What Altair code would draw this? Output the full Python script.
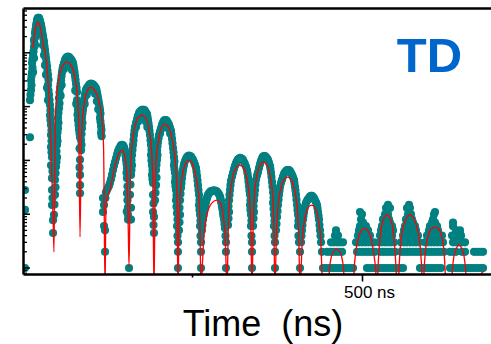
import altair as alt
import pandas as pd

# Time-resolved decay with quantum beats: time in ns, photon counts as log10(counts)
lead_in_and_peak1 = [
    (3.0, 0.0), (3.0, 1.08), (3.0, 1.45), (10.3, 2.43), (10.3, 3.12), (11.8, 3.31), (11.8, 3.49),
    (13.3, 3.64), (13.3, 3.81), (14.8, 3.96), (16.2, 4.11), (16.2, 4.24), (17.7, 4.37), (19.2, 4.50),
    (20.7, 4.61), (22.1, 4.65), (23.6, 4.65), (25.1, 4.59), (26.6, 4.52), (28.0, 4.42), (29.5, 4.31),
    (31.0, 4.20), (32.5, 4.05), (33.9, 3.90), (35.4, 3.75), (36.9, 3.59), (36.9, 3.40), (38.4, 3.22),
    (39.8, 3.03), (39.8, 2.84), (41.3, 2.66), (41.3, 2.47), (41.3, 2.25), (42.8, 2.06), (41.3, 1.91),
    (42.8, 1.67), (42.8, 1.45), (42.8, 1.17), (44.3, 0.89), (44.3, 0.65),
    (17.7, 4.14), (19.2, 4.35), (20.7, 4.46), (23.6, 4.48), (26.6, 4.39), (29.5, 4.14), (31.0, 3.96),
    (32.5, 3.77), (33.9, 3.59), (35.4, 3.35), (36.9, 3.12), (16.2, 3.90), (14.8, 3.64),
    (11.0, 3.22), (12.5, 3.40), (12.5, 3.57), (14.0, 3.72), (14.0, 3.88), (15.5, 4.03), (17.0, 4.18),
    (18.4, 4.30), (18.4, 4.43), (19.9, 4.55), (21.4, 4.63), (24.3, 4.62), (25.8, 4.55), (27.3, 4.47),
    (28.7, 4.36), (30.2, 4.25), (31.7, 4.12), (33.2, 3.97), (34.7, 3.82), (36.1, 3.67), (37.6, 3.50),
    (37.6, 3.30), (39.1, 3.12), (40.5, 2.93), (40.5, 2.75), (42.0, 2.56), (42.0, 2.36), (42.0, 2.15),
    (43.5, 1.80), (43.5, 1.30),
]
peak2 = [
    (45.7, 0.99), (47.2, 1.36), (47.2, 1.64), (48.7, 1.88), (50.2, 2.06), (50.2, 2.29), (50.2, 2.43),
    (51.6, 2.60), (51.6, 2.79), (53.1, 2.97), (53.1, 3.16), (54.6, 3.35), (56.1, 3.49), (57.5, 3.64),
    (59.0, 3.75), (62.0, 3.87), (64.9, 3.92), (67.9, 3.92), (70.8, 3.88), (73.8, 3.81), (75.2, 3.70),
    (76.7, 3.57), (78.2, 3.42), (79.7, 3.27), (79.7, 3.12), (81.1, 2.94), (81.1, 2.75), (82.6, 2.57),
    (84.1, 2.43), (84.1, 2.01), (84.1, 1.73), (84.1, 1.54), (84.1, 1.39),
    (60.5, 3.70), (63.4, 3.75), (66.4, 3.77), (69.3, 3.75), (72.3, 3.68), (55.5, 3.20), (57.0, 3.40),
    (77.0, 3.30), (78.5, 3.05),
    (46.4, 1.18), (47.9, 1.50), (48.0, 1.76), (49.4, 1.97), (49.4, 2.17), (50.9, 2.36), (50.9, 2.52),
    (52.3, 2.70), (52.3, 2.88), (53.8, 3.06), (53.8, 3.26), (55.3, 3.42), (56.8, 3.57), (58.3, 3.70),
    (60.5, 3.81), (63.4, 3.90), (66.4, 3.93), (69.3, 3.90), (72.3, 3.85), (74.5, 3.76), (76.0, 3.64),
    (77.5, 3.50), (79.0, 3.35), (80.4, 3.03), (80.4, 2.85), (81.9, 2.66), (83.4, 2.50), (83.4, 2.22),
    (83.4, 1.87),
]
peak3 = [
    (85.6, 2.19), (85.6, 2.38), (87.0, 2.60), (87.0, 2.79), (88.5, 2.94), (90.0, 3.09), (91.5, 3.22),
    (92.9, 3.31), (95.9, 3.37), (98.8, 3.42), (101.8, 3.42), (104.7, 3.39), (107.7, 3.34), (109.2, 3.25),
    (110.6, 3.16), (112.1, 3.05), (113.6, 2.94), (113.6, 2.79), (115.1, 2.64), (115.1, 2.51),
    (91.0, 3.05), (94.0, 3.22), (97.4, 3.30), (100.3, 3.31), (103.3, 3.30), (106.2, 3.24), (109.0, 3.10),
    (111.0, 2.95),
    (86.3, 2.29), (86.3, 2.49), (87.7, 2.70), (87.7, 2.87), (89.2, 3.02), (90.7, 3.16), (92.2, 3.27),
    (94.4, 3.35), (97.3, 3.40), (100.3, 3.43), (103.3, 3.41), (106.2, 3.37), (108.5, 3.30), (109.9, 3.21),
    (111.4, 3.11), (112.9, 3.00), (114.3, 2.87), (114.3, 2.72), (115.8, 2.57), (116.0, 2.45),
    (118.0, 1.30), (119.5, 1.17), (118.0, 1.04), (119.5, 0.78), (121.0, 0.70), (121.0, 0.30),
]
peak4 = [
    (122.4, 1.41), (125.4, 1.49), (128.3, 1.58), (131.3, 1.73), (134.2, 1.90), (137.2, 2.04), (140.1, 2.17),
    (143.1, 2.25), (146.0, 2.29), (149.0, 2.25), (150.5, 2.16), (151.9, 2.01), (153.4, 1.86), (153.4, 1.67),
    (153.4, 1.39), (154.9, 1.13), (154.9, 0.99), (154.9, 0.90), (156.4, 0.0),
    (121.5, 1.30), (123.9, 1.45), (126.9, 1.53), (129.8, 1.65), (132.8, 1.82), (135.7, 1.97), (138.7, 2.11),
    (141.6, 2.21), (144.6, 2.28), (147.5, 2.28), (149.7, 2.21), (151.2, 2.09), (152.7, 1.94), (152.7, 1.77),
    (154.1, 1.52), (154.1, 1.26), (153.0, 1.05),
]
peak5 = [
    (157.8, 1.36), (159.3, 1.12), (159.3, 0.90), (159.3, 1.73), (160.8, 1.91), (160.8, 2.10), (162.3, 2.29),
    (163.7, 2.47), (165.2, 2.62), (168.2, 2.77), (171.1, 2.88), (174.1, 2.92), (177.0, 2.94), (180.0, 2.92),
    (182.9, 2.86), (184.4, 2.75), (185.9, 2.62), (187.3, 2.47), (188.8, 2.29), (188.8, 2.10), (190.3, 1.91),
    (190.3, 1.73), (191.8, 1.58), (191.8, 1.36), (191.8, 1.04), (193.2, 0.95), (193.2, 0.65),
    (166.7, 2.62), (169.6, 2.72), (172.6, 2.78), (175.5, 2.80), (178.5, 2.78), (181.4, 2.72), (183.4, 2.62),
    (158.5, 1.55), (160.0, 1.82), (160.0, 2.00), (161.5, 2.20), (163.0, 2.38), (164.4, 2.55), (166.7, 2.70),
    (169.6, 2.83), (172.6, 2.91), (175.5, 2.94), (178.5, 2.94), (181.4, 2.89), (183.6, 2.81), (185.1, 2.69),
    (186.6, 2.55), (188.0, 2.38), (189.5, 2.20), (189.5, 2.00), (191.0, 1.82), (191.0, 1.65), (192.5, 1.20),
    (192.5, 0.80),
]
peak6 = [
    (194.7, 1.26), (196.2, 1.54), (196.2, 1.82), (197.7, 2.01), (197.7, 2.19), (199.1, 2.34), (200.6, 2.47),
    (203.6, 2.60), (206.5, 2.71), (209.5, 2.75), (212.4, 2.73), (215.4, 2.66), (218.3, 2.55), (219.8, 2.40),
    (221.3, 2.23), (222.7, 2.06), (222.7, 1.91), (224.2, 1.77), (224.2, 1.60), (225.7, 1.45), (225.7, 1.26),
    (227.2, 1.02), (227.2, 0.78), (228.6, 0.48), (228.6, 0.30), (228.6, 0.0),
    (202.1, 2.50), (205.0, 2.60), (208.0, 2.64), (211.0, 2.64), (214.0, 2.60), (217.0, 2.50),
    (195.4, 1.40), (196.9, 1.68), (196.9, 1.92), (198.4, 2.10), (198.4, 2.27), (199.9, 2.41), (202.1, 2.54),
    (205.0, 2.66), (208.0, 2.74), (211.0, 2.75), (213.9, 2.70), (216.8, 2.61), (219.0, 2.48), (220.5, 2.32),
    (222.0, 2.15), (223.4, 1.98), (223.4, 1.84), (224.9, 1.68), (224.9, 1.52), (226.4, 1.35), (226.4, 1.14),
    (227.9, 0.90), (227.9, 0.60),
]
peak7 = [
    (230.1, 0.70), (231.6, 0.99), (231.6, 1.26), (233.1, 1.49), (234.5, 1.67), (236.0, 1.82), (237.5, 1.93),
    (240.4, 2.03), (243.4, 2.08), (246.3, 2.08), (249.3, 2.04), (252.2, 1.97), (255.2, 1.86), (256.7, 1.71),
    (258.1, 1.54), (259.6, 1.36), (259.6, 1.17), (261.1, 0.99), (261.1, 0.78), (262.6, 0.48), (262.6, 0.30),
    (262.6, 0.0),
    (230.8, 0.85), (230.8, 1.12), (232.3, 1.38), (233.8, 1.58), (235.2, 1.75), (236.7, 1.88), (239.0, 1.99),
    (241.9, 2.06), (244.8, 2.09), (247.8, 2.07), (250.7, 2.01), (253.7, 1.92), (255.9, 1.79), (257.4, 1.63),
    (258.8, 1.45), (260.3, 1.26), (260.3, 1.08), (261.8, 0.88), (261.8, 0.60),
]
peak8 = [
    (264.0, 0.70), (265.5, 0.90), (267.0, 1.04), (268.5, 1.15), (269.9, 1.23), (271.4, 1.30), (272.9, 1.36),
    (275.8, 1.41), (278.8, 1.43), (281.7, 1.44), (284.7, 1.43), (287.6, 1.40), (290.6, 1.33), (292.1, 1.24),
    (293.5, 1.15), (295.0, 1.02), (296.5, 0.90), (298.0, 0.74), (299.4, 0.48), (299.4, 0.30), (299.4, 0.0),
    (264.7, 0.80), (266.2, 0.97), (267.7, 1.10), (269.2, 1.20), (270.6, 1.27), (272.1, 1.33), (274.3, 1.39),
    (277.3, 1.43), (280.2, 1.44), (283.2, 1.44), (286.1, 1.42), (289.1, 1.37), (291.3, 1.29), (292.8, 1.20),
    (294.2, 1.09), (295.7, 0.96), (297.2, 0.82), (298.7, 0.60),
]
peak9 = [
    (302.4, 0.80), (303.9, 1.04), (303.9, 1.26), (305.3, 1.45), (306.8, 1.62), (309.8, 1.77), (312.7, 1.90),
    (315.7, 1.99), (318.6, 2.03), (321.6, 2.04), (324.5, 2.01), (327.5, 1.93), (330.4, 1.82), (331.9, 1.69),
    (333.4, 1.52), (334.8, 1.36), (334.8, 1.17), (336.3, 0.99), (336.3, 0.78), (337.8, 0.48), (337.8, 0.30),
    (337.8, 0.0),
    (303.1, 0.92), (303.1, 1.15), (304.6, 1.36), (306.0, 1.54), (308.3, 1.70), (311.2, 1.84), (314.2, 1.95),
    (317.1, 2.02), (320.1, 2.05), (323.0, 2.03), (326.0, 1.97), (328.9, 1.88), (331.1, 1.76), (332.6, 1.61),
    (334.0, 1.44), (335.5, 1.26), (335.5, 1.08), (337.0, 0.88), (337.0, 0.60),
]
peak10 = [
    (339.3, 0.78), (340.7, 1.04), (340.7, 1.26), (342.2, 1.45), (343.7, 1.64), (346.6, 1.78), (349.6, 1.93),
    (352.5, 2.04), (355.5, 2.08), (358.4, 2.06), (361.4, 2.01), (364.3, 1.90), (365.8, 1.77), (367.3, 1.60),
    (368.8, 1.41), (368.8, 1.21), (370.2, 0.99), (370.2, 0.78), (371.7, 0.48), (371.7, 0.30), (371.7, 0.0),
    (340.0, 0.92), (340.0, 1.15), (341.5, 1.36), (342.9, 1.55), (345.2, 1.72), (348.1, 1.86), (351.0, 1.99),
    (354.0, 2.07), (356.9, 2.08), (359.9, 2.04), (362.8, 1.96), (365.0, 1.84), (366.5, 1.69), (368.0, 1.51),
    (369.5, 1.31), (369.5, 1.10), (371.0, 0.88), (371.0, 0.60),
]
peak11 = [
    (373.2, 0.70), (374.7, 0.95), (376.1, 1.17), (377.6, 1.36), (379.1, 1.51), (382.0, 1.64), (385.0, 1.75),
    (387.9, 1.80), (390.9, 1.82), (393.8, 1.80), (396.8, 1.73), (399.7, 1.64), (401.2, 1.51), (402.7, 1.36),
    (404.2, 1.17), (405.6, 0.99), (405.6, 0.78), (407.1, 0.48), (408.6, 0.30), (408.6, 0.0),
    (373.9, 0.82), (375.4, 1.06), (376.9, 1.27), (378.4, 1.44), (380.5, 1.58), (383.5, 1.70), (386.4, 1.78),
    (389.4, 1.82), (392.3, 1.82), (395.3, 1.77), (398.2, 1.69), (400.4, 1.58), (401.9, 1.44), (403.4, 1.27),
    (404.9, 1.08), (406.3, 0.88), (406.3, 0.60),
]
peak12 = [
    (410.1, 0.48), (411.5, 0.70), (413.0, 0.90), (414.5, 1.04), (416.0, 1.15), (418.9, 1.25), (421.9, 1.30),
    (424.8, 1.34), (427.8, 1.32), (430.7, 1.26), (433.7, 1.17), (435.1, 1.04), (436.6, 0.90), (438.1, 0.70),
    (439.6, 0.48), (441.0, 0.30), (442.5, 0.0),
    (410.8, 0.60), (412.2, 0.80), (413.7, 0.97), (415.2, 1.10), (417.4, 1.21), (420.4, 1.28), (423.3, 1.33),
    (426.3, 1.34), (429.2, 1.30), (432.2, 1.22), (434.4, 1.11), (435.9, 0.97), (437.3, 0.80), (438.8, 0.60),
]

# Late tail: whole-photon counts, listed as count -> bin times (ns)
tail_counts = {
    1: [446.9, 451.4, 455.8, 460.2, 464.6, 469.1, 473.5, 477.9, 482.3, 486.8,
        507.4, 511.8, 516.3, 520.7, 525.1, 529.5, 534.0, 538.4, 542.8, 547.2, 551.7, 556.1, 560.5,
        585.6, 590.0, 594.4, 598.9, 603.3, 607.7, 612.1, 616.6,
        629.8, 634.3, 638.7, 643.1, 647.5, 652.0, 656.4, 660.8, 665.2, 669.7, 674.1, 678.5],
    2: [448.4, 452.8, 457.3, 461.7, 466.1, 470.5, 492.7, 497.1, 501.5, 505.9, 510.4, 514.8, 519.2,
        526.6, 531.0, 535.4, 539.9, 544.3, 548.7, 557.6, 562.0, 566.4, 570.8, 575.3, 579.7, 584.1, 588.5,
        594.4, 598.9, 603.3, 607.7, 612.1, 616.6, 621.0, 629.8, 634.3, 638.7, 647.5, 652.0,
        665.2, 669.7, 674.1, 678.5],
    3: [454.3, 458.7, 463.2, 467.6, 472.0, 491.2, 495.6, 500.0, 504.5, 508.9, 513.3, 517.7,
        525.1, 529.5, 534.0, 538.4, 542.8, 547.2, 557.6, 562.0, 566.4, 570.8, 575.3, 579.7, 584.1,
        593.0, 597.4, 601.8, 606.2, 610.7, 615.1, 619.5, 634.3, 638.7, 643.1, 647.5, 652.0],
    4: [460.2, 464.6, 494.1, 498.6, 503.0, 507.4, 511.8, 526.6, 531.0, 535.4, 539.9, 544.3,
        560.5, 564.9, 569.4, 573.8, 578.2, 582.6, 595.9, 600.3, 604.8, 609.2, 613.6, 618.0,
        632.8, 637.2, 641.6, 646.1],
    5: [461.7, 495.6, 500.0, 504.5, 508.9, 528.1, 532.5, 536.9, 541.3, 545.8, 562.0, 566.4, 570.8,
        575.3, 579.7, 598.9, 603.3, 607.7, 612.1, 638.7, 644.6],
    6: [497.1, 505.9, 529.5, 538.4, 544.3, 563.5, 572.3, 578.2, 600.3, 610.7, 634.3],
    7: [501.5, 532.5, 535.4, 541.3, 566.4, 569.4, 575.3, 603.3, 607.7, 634.3],
    8: [498.6, 531.0, 539.9, 564.9, 573.8, 604.8],
    10: [500.0, 534.0, 538.4, 567.9, 572.3, 606.2],
    11: [497.1, 607.7],
    13: [535.4, 541.3, 566.4, 570.8],
    15: [538.4, 569.4],
}

# Fitted model curve: time (ns), log10(counts)
fit_curve = [
    (14.8, 4.09), (17.7, 4.42), (20.7, 4.55), (22.1, 4.57), (25.1, 4.50), (29.5, 4.18), (35.4, 3.74),
    (38.4, 3.12), (41.3, 2.19), (44.3, 0.99), (45.7, 0.30),
    (47.6, 2.68), (49.6, 3.18), (53.4, 3.55), (59.0, 3.77), (64.9, 3.83), (70.8, 3.77), (76.4, 3.55),
    (80.2, 3.18), (82.2, 2.68), (84.1, 0.58),
    (85.8, 2.21), (87.5, 2.71), (90.7, 3.09), (95.4, 3.31), (100.3, 3.36), (105.5, 3.31), (112.1, 3.09),
    (116.8, 2.71), (118.9, 2.21), (121.0, -0.41),
    (122.4, 1.17), (125.4, 1.36), (128.3, 1.45), (132.8, 1.73), (138.7, 2.04), (146.0, 2.19), (150.5, 2.06),
    (153.4, 1.64), (154.9, 0.99), (156.4, 0.02),
    (158.3, 1.69), (160.2, 2.19), (164.0, 2.57), (169.6, 2.79), (175.5, 2.84), (180.8, 2.79), (185.9, 2.57),
    (189.5, 2.19), (191.4, 1.69), (193.2, -0.41),
    (195.0, 1.52), (196.6, 2.03), (200.2, 2.40), (204.6, 2.62), (209.5, 2.68), (214.6, 2.62), (219.8, 2.40),
    (224.2, 2.03), (226.9, 1.52), (228.6, -0.41),
    (230.2, 0.86), (231.9, 1.36), (235.3, 1.73), (240.0, 1.95), (244.9, 2.01), (249.3, 1.95), (254.4, 1.73),
    (259.0, 1.36), (260.9, 0.86), (262.6, -0.41),
    (264.8, 0.11), (267.0, 0.61), (271.4, 0.99), (278.8, 1.21), (286.2, 1.26), (291.0, 1.21), (295.0, 0.99),
    (298.0, 0.61), (299.4, 0.11), (300.9, -0.41),
    (302.8, 0.76), (304.7, 1.26), (308.6, 1.64), (314.2, 1.86), (320.1, 1.91), (325.4, 1.86), (330.4, 1.64),
    (334.1, 1.26), (336.0, 0.76), (337.8, -0.41),
    (339.5, 0.82), (341.2, 1.32), (344.6, 1.69), (349.6, 1.91), (354.7, 1.97), (359.9, 1.91), (364.9, 1.69),
    (368.3, 1.32), (369.9, 0.82), (371.7, -0.41),
    (373.6, 0.54), (375.4, 1.04), (379.1, 1.41), (384.7, 1.64), (390.1, 1.69), (395.7, 1.64), (401.2, 1.41),
    (404.9, 1.04), (406.8, 0.54), (408.6, -0.41),
    (410.3, 0.02), (412.0, 0.52), (415.4, 0.89), (420.4, 1.12), (425.5, 1.17), (430.7, 1.12), (435.7, 0.89),
    (439.1, 0.52), (440.7, 0.02), (442.5, -0.41),
    (450.0, -0.41), (452.2, 0.0), (455.1, 0.22), (458.8, 0.32), (462.5, 0.35), (466.1, 0.32), (469.8, 0.22),
    (472.7, 0.0), (475.0, -0.41),
    (486.8, -0.41), (488.5, 0.0), (490.3, 0.24), (493.9, 0.52), (498.6, 0.69), (503.7, 0.74), (508.9, 0.69),
    (514.0, 0.52), (517.7, 0.24), (520.0, 0.0), (522.2, -0.41),
    (523.6, 0.0), (525.1, 0.33), (528.1, 0.71), (532.5, 0.93), (536.9, 0.99), (541.3, 0.93), (545.8, 0.71),
    (548.7, 0.33), (550.2, 0.0), (551.7, -0.41),
    (553.1, -0.41), (554.9, 0.06), (556.8, 0.43), (560.5, 0.74), (565.7, 0.93), (570.8, 0.99), (576.0, 0.93),
    (581.2, 0.74), (585.6, 0.43), (587.8, 0.06), (590.0, -0.41),
    (591.8, 0.0), (593.4, 0.30), (596.8, 0.56), (601.8, 0.72), (607.7, 0.76), (613.6, 0.72), (618.0, 0.56),
    (621.0, 0.30), (622.5, 0.0), (624.0, -0.41),
    (631.3, -0.41), (633.5, 0.0), (635.7, 0.22), (639.4, 0.37), (643.1, 0.43), (646.8, 0.37), (650.5, 0.22),
    (652.7, 0.0), (654.9, -0.41),
    (671.1, -0.41), (675.5, -0.11), (680.0, -0.06),
]

# Log-axis tick positions (no labels): decades get the long ticks
decade_ticks = [1, 10, 100, 1000, 10000]
minor_ticks = [0.8, 0.9, 2, 3, 4, 5, 6, 7, 8, 9, 20, 30, 40, 50, 60, 70, 80, 90,
               200, 300, 400, 500, 600, 700, 800, 900, 2000, 3000, 4000, 5000, 6000, 7000, 8000, 9000,
               20000, 30000, 40000, 50000, 60000]
x_ticks = [250, 500]
x_label = "500 ns"
x_title = "Time\u00a0 (ns)"
tag_text = "TD"

W, H = 468, 266
FONT = "Liberation Sans"

# ---- assemble tables ----
rows = []
for seg in [lead_in_and_peak1, peak2, peak3, peak4, peak5, peak6, peak7, peak8, peak9, peak10, peak11, peak12]:
    for t, lg in seg:
        rows.append({"t": t, "counts": 10 ** lg})
for c, times in tail_counts.items():
    for t in times:
        rows.append({"t": t, "counts": float(c)})
dots_df = pd.DataFrame(rows)

fit_df = pd.DataFrame({
    "t": [p[0] for p in fit_curve],
    "counts": [10 ** p[1] for p in fit_curve],
    "i": list(range(len(fit_curve))),
})

x_scale = alt.Scale(domain=[0, 690.3], nice=False, zero=False)
y_scale = alt.Scale(type="log", domain=[0.774, 68030], nice=False)

# left spine only; its ticks are drawn as inward rules below
y_axis = alt.Axis(orient="left", ticks=False, labels=False, title=None, grid=False,
                  domain=True, domainColor="black", domainWidth=2.5, zindex=1)

x_axis = alt.Axis(
    orient="bottom", values=x_ticks, grid=False,
    labelExpr=f"datum.value == 500 ? '{x_label}' : ''",
    tickSize={"condition": {"test": "datum.value == 500", "value": 7}, "value": 3},
    tickColor="black", tickWidth=1.6, domainColor="black", domainWidth=2.5, zindex=1,
    labelFont=FONT, labelFontSize=17, labelColor="black", labelPadding=3, labelOffset=7,
    title=x_title, titleFont=FONT, titleFontSize=36, titleFontWeight="normal", titleColor="black",
    titleX=239.5, titleY=61, titleBaseline="alphabetic", titleAlign="center",
)

top_axis = alt.Axis(orient="top", ticks=False, labels=False, title=None, grid=False,
                    domainColor="black", domainWidth=2.5, zindex=1)

dots = alt.Chart(dots_df).mark_circle(size=66, color="#008080", opacity=1, clip=True).encode(
    x=alt.X("t:Q", scale=x_scale, axis=x_axis),
    y=alt.Y("counts:Q", scale=y_scale, axis=y_axis),
)

fit = alt.Chart(fit_df).mark_line(color="#FF0000", strokeWidth=1.3, interpolate="monotone", clip=True).encode(
    x=alt.X("t:Q", scale=x_scale, axis=top_axis),
    y=alt.Y("counts:Q", scale=y_scale, axis=y_axis),
    order="i:Q",
)

# inward-pointing ticks along the left (log) axis
major_rules = alt.Chart(pd.DataFrame({"v": decade_ticks})).mark_rule(color="black", strokeWidth=1.5).encode(
    y=alt.Y("v:Q", scale=y_scale, axis=y_axis), x=alt.value(0), x2=alt.value(7)
)
minor_rules = alt.Chart(pd.DataFrame({"v": minor_ticks})).mark_rule(color="black", strokeWidth=1.3).encode(
    y=alt.Y("v:Q", scale=y_scale, axis=y_axis), x=alt.value(0), x2=alt.value(4)
)

tag = alt.Chart(pd.DataFrame({"tag": [tag_text]})).mark_text(
    font=FONT, fontSize=49, fontWeight="bold", color="#0066CC", align="center", baseline="alphabetic"
).encode(text="tag:N", x=alt.value(406.5), y=alt.value(63.5))

chart = (
    alt.layer(dots, fit, major_rules, minor_rules, tag)
    .resolve_axis(x="independent")
    .properties(
        width=W, height=H,
        padding={"left": 23, "top": 8, "right": 0, "bottom": 70},
        autosize=alt.AutoSizeParams(type="none"),
    )
    .configure_view(stroke=None)
)

chart.save("out.html", embed_options={"renderer": "svg", "actions": False})
